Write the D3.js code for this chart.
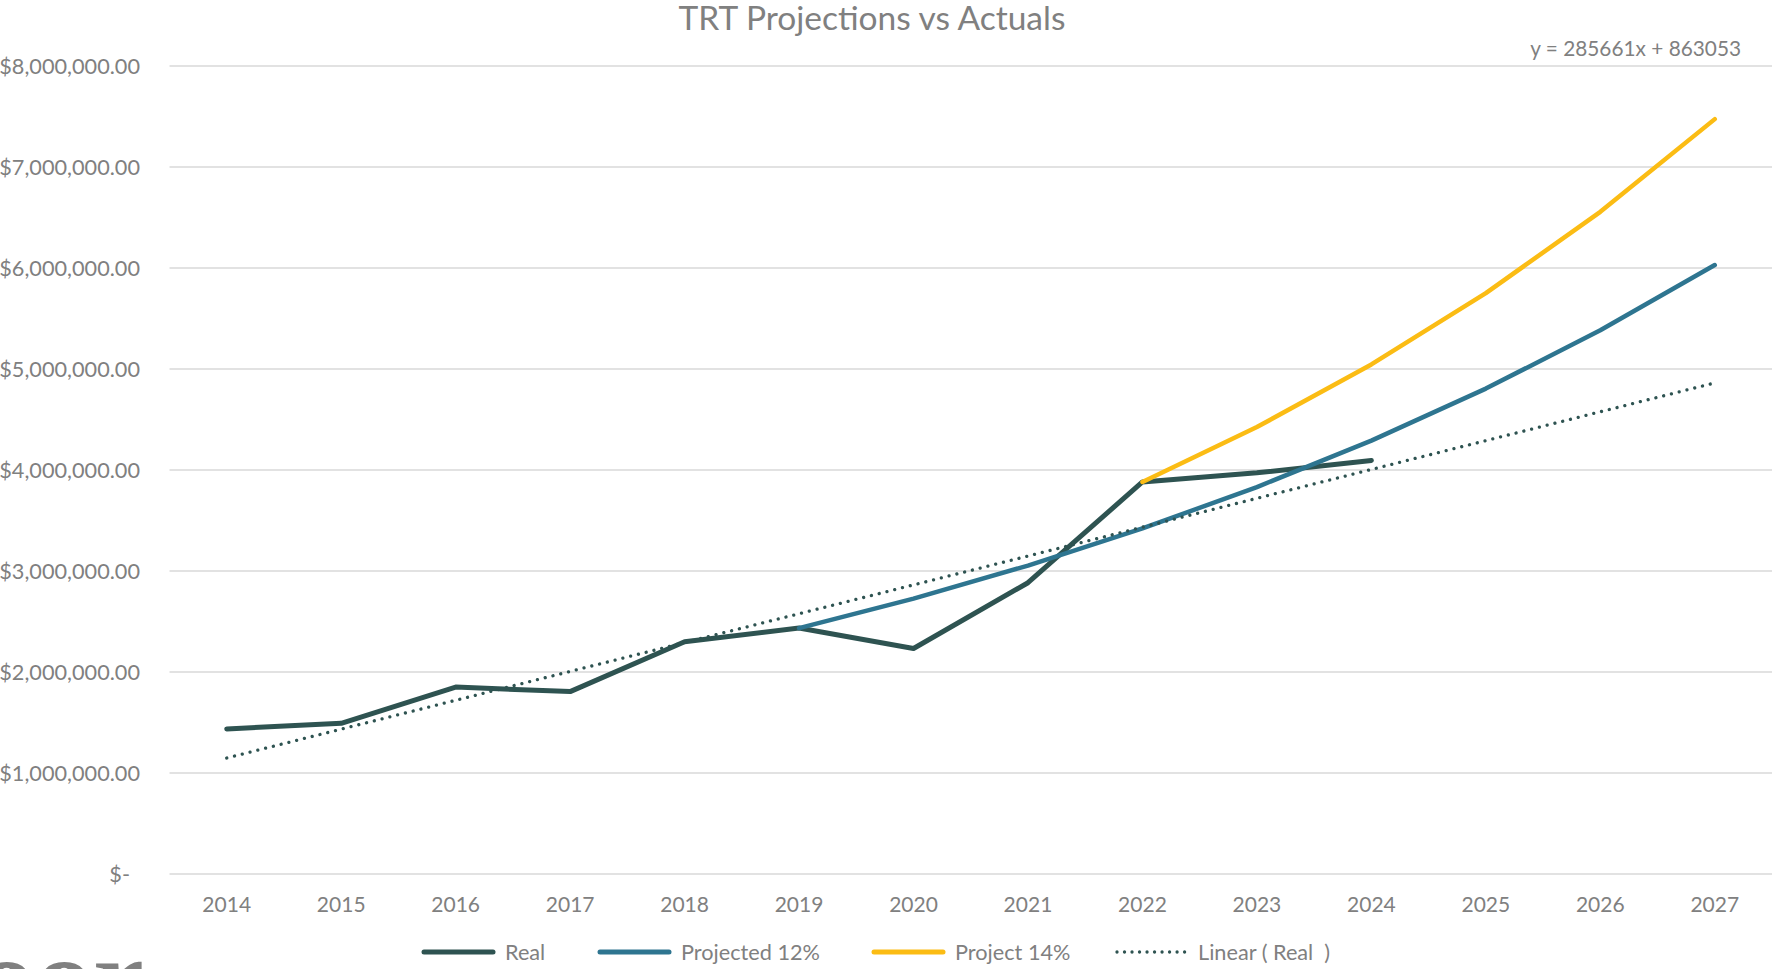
<!DOCTYPE html>
<html>
<head>
<meta charset="utf-8">
<script src="https://cdn.jsdelivr.net/npm/d3@7"></script>
<style>
  html, body { margin: 0; padding: 0; background: #ffffff; }
  svg { display: block; }
  text { font-family: Lato, "Open Sans", sans-serif; fill: #808080; }
</style>
</head>
<body>
<svg id="chart" width="1772" height="969"></svg>
<script>
// ---- data ----
const years = ["2014", "2015", "2016", "2017", "2018", "2019", "2020",
               "2021", "2022", "2023", "2024", "2025", "2026", "2027"];

const realYears = ["2014", "2015", "2016", "2017", "2018", "2019",
                   "2020", "2021", "2022", "2023", "2024"];
const realValues = [1436000, 1492000, 1851000, 1806000, 2300000, 2435000,
                    2233000, 2884000, 3882000, 3972000, 4095000];

const proj12Years = ["2019", "2020", "2021", "2022", "2023", "2024", "2025", "2026", "2027"];
const proj12Values = [2435000, 2727000, 3054000, 3421000, 3831000, 4291000, 4806000, 5383000, 6029000];

const proj14Years = ["2022", "2023", "2024", "2025", "2026", "2027"];
const proj14Values = [3882000, 4425000, 5045000, 5751000, 6556000, 7474000];

// linear trendline of the Real series, as printed on the chart
const trendSlope = 285661;
const trendIntercept = 863053;
const trendLabel = "y = 285661x + 863053";

const yTicks = [0, 1000000, 2000000, 3000000, 4000000, 5000000, 6000000, 7000000, 8000000];
const yTickLabels = ["$-", "$1,000,000.00", "$2,000,000.00", "$3,000,000.00", "$4,000,000.00",
                     "$5,000,000.00", "$6,000,000.00", "$7,000,000.00", "$8,000,000.00"];

const seriesNames = ["Real", "Projected 12%", "Project 14%", "Linear ( Real  )"];
const titleText = "TRT Projections vs Actuals";

// ---- layout ----
const W = 1772, H = 969;
const plot = { left: 169.5, right: 1772, top: 66, bottom: 874 };
const colors = { real: "#2e5351", p12: "#2e7590", p14: "#fbbc14", grid: "#d9d9d9", text: "#808080" };

const svg = d3.select("#chart");

const x = d3.scaleBand().domain(years).range([plot.left, plot.right]).padding(0);
const xc = d => x(d) + x.bandwidth() / 2;
const y = d3.scaleLinear().domain([0, 8000000]).range([plot.bottom, plot.top]);

// gridlines
svg.append("g").selectAll("line").data(yTicks).join("line")
  .attr("x1", plot.left).attr("x2", plot.right)
  .attr("y1", d => y(d)).attr("y2", d => y(d))
  .attr("stroke", colors.grid).attr("stroke-width", 1.5);

// y axis labels
const yAxis = d3.axisLeft(y).tickValues(yTicks)
  .tickFormat((d, i) => yTickLabels[i]).tickSize(0).tickPadding(0);
const gy = svg.append("g").attr("transform", `translate(140,0)`).call(yAxis);
gy.select(".domain").remove();
gy.selectAll("text")
  .attr("fill", colors.text)
  .style("font-family", "Lato, sans-serif")
  .style("font-size", "21.7px")
  .attr("dy", "0.35em")
  .attr("x", d => d === 0 ? -10 : 0);

// x axis labels
const xAxis = d3.axisBottom(x).tickSize(0).tickPadding(0);
const gx = svg.append("g").attr("transform", `translate(0,${plot.bottom})`).call(xAxis);
gx.select(".domain").remove();
gx.selectAll("text")
  .attr("fill", colors.text)
  .style("font-family", "Lato, sans-serif")
  .style("font-size", "21px")
  .attr("y", 38).attr("dy", 0);

// lines
const line = d3.line().x(d => xc(d[0])).y(d => y(d[1]));

function drawSeries(cats, vals, color, width) {
  svg.append("path")
    .datum(d3.zip(cats, vals))
    .attr("d", line)
    .attr("fill", "none")
    .attr("stroke", color)
    .attr("stroke-width", width)
    .attr("stroke-linecap", "round")
    .attr("stroke-linejoin", "round");
}

drawSeries(realYears, realValues, colors.real, 5);
drawSeries(proj12Years, proj12Values, colors.p12, 4.5);
drawSeries(proj14Years, proj14Values, colors.p14, 4.5);

// trendline across all categories (x = 1 .. n)
const trendPts = [years[0], years[years.length - 1]].map(c => {
  const n = years.indexOf(c) + 1;
  return [c, trendSlope * n + trendIntercept];
});
svg.append("path")
  .datum(trendPts)
  .attr("d", line)
  .attr("fill", "none")
  .attr("stroke", colors.real)
  .attr("stroke-width", 3.3)
  .attr("stroke-linecap", "round")
  .attr("stroke-dasharray", "0.01 8");

// title
svg.append("text")
  .attr("x", 872).attr("y", 30)
  .attr("text-anchor", "middle")
  .style("font-size", "33.5px")
  .attr("fill", colors.text)
  .text(titleText);

// trendline equation
svg.append("text")
  .attr("x", 1741).attr("y", 56)
  .attr("text-anchor", "end")
  .style("font-size", "20.8px")
  .attr("fill", colors.text)
  .text(trendLabel);

// legend: one slot per series, swatch followed by its name
const legendSlots = [424, 600, 874, 1117];
const legendItems = [
  { name: seriesNames[0], color: colors.real, dash: null, w: 5 },
  { name: seriesNames[1], color: colors.p12, dash: null, w: 5 },
  { name: seriesNames[2], color: colors.p14, dash: null, w: 5 },
  { name: seriesNames[3], color: colors.real, dash: "0.01 7.5", w: 3.3 }
];
const legend = svg.append("g").attr("transform", "translate(0,952)");
legendItems.forEach((it, i) => {
  const lx = legendSlots[i];
  legend.append("line")
    .attr("x1", lx).attr("x2", lx + 69)
    .attr("y1", 0).attr("y2", 0)
    .attr("stroke", it.color).attr("stroke-width", it.w)
    .attr("stroke-linecap", "round")
    .attr("stroke-dasharray", it.dash);
  legend.append("text")
    .attr("x", lx + 81).attr("y", 0).attr("dy", "0.35em")
    .style("font-size", "21.7px")
    .style("white-space", "pre")
    .attr("fill", colors.text)
    .text(it.name);
});

// brand wordmark fragment at the lower left edge
svg.append("text")
  .attr("x", -22).attr("y", 1016)
  .style("font-family", "'Liberation Serif', serif")
  .style("font-weight", "bold")
  .style("font-size", "115px")
  .attr("fill", "#1e4848")
  .text("oor");
</script>
</body>
</html>
